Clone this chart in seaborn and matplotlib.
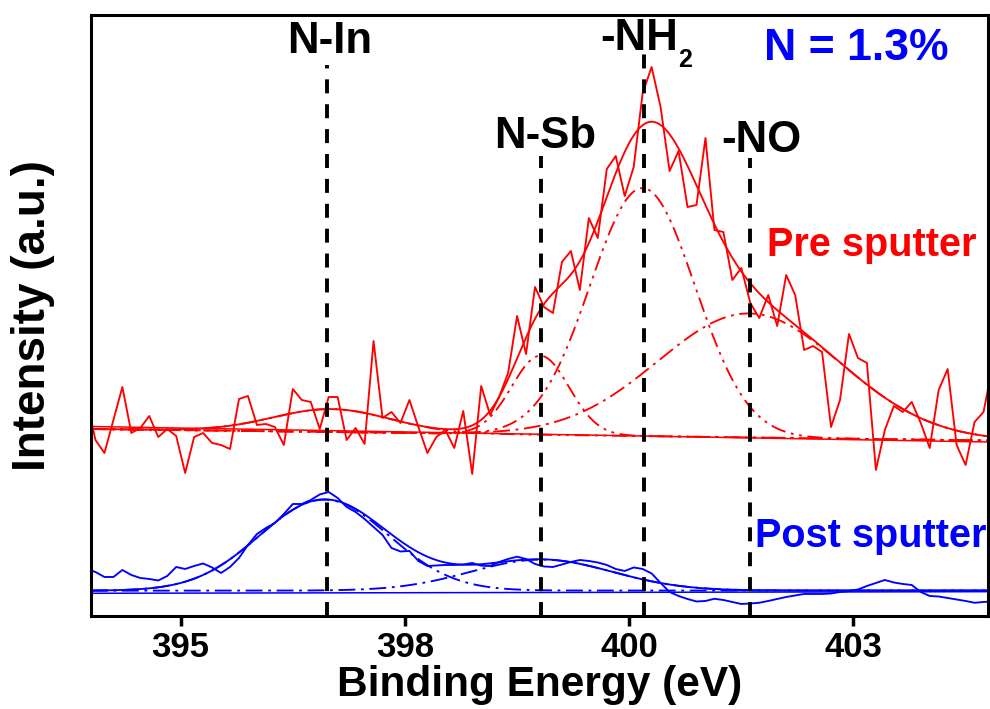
import numpy as np
import matplotlib
matplotlib.use("Agg")
import matplotlib.pyplot as plt
import seaborn as sns

# ---------------- data ----------------
# binding-energy grid of the measured spectra (eV)
energy = np.round(394.05 + 0.1 * np.arange(-1, 101), 2)

# Pre sputter raw counts (a.u.)
pre_counts = [216,
    176, 163, 196, 229, 183, 188, 200, 179, 187, 180,
    143, 179, 183, 173, 171, 167, 217, 220, 191, 192,
    189, 171, 227, 216, 214, 187, 219, 219, 176, 188,
    172, 275, 198, 204, 193, 216, 189, 163, 179, 186,
    168, 205, 142, 230, 201, 219, 243, 300, 262, 329,
    309, 303, 354, 365, 326, 398, 378, 447, 460, 420,
    449, 523, 549, 509, 445, 465, 409, 411, 478, 386,
    384, 336, 348, 313, 298, 321, 290, 341, 321, 266,
    270, 264, 189, 216, 282, 258, 253, 146, 186, 210,
    204, 214, 193, 168, 226, 247, 171, 151, 194, 204,
    250]

# Post sputter raw counts (a.u.)
post_counts = [47,
    44, 39, 39, 46, 41, 38, 37, 35.5, 40, 49,
    47, 50, 52.5, 48.5, 43, 49, 58, 71, 82, 88,
    93, 102, 112, 112, 116, 121.5, 124, 118, 109, 104,
    97, 89, 81, 68, 64.5, 65, 55, 50, 50.5, 51,
    51, 51.5, 53, 50.3, 50, 54, 57, 59.3, 57, 52,
    49.5, 49, 51.5, 54, 56, 55, 53.5, 51, 47, 45,
    48.5, 47, 42.5, 33, 24, 20, 17, 14.5, 15, 17.2,
    16, 14, 12, 12.5, 13.2, 15, 17, 19, 20.5, 22,
    22, 22, 22.5, 24, 25, 26.5, 30, 33, 36, 33.5,
    32, 31, 24, 20, 19.5, 18, 16.5, 15, 13.2, 14,
    14.5]

# fitted components (N-In, N-Sb, -NH2, -NO)
pre_centers = [396.68, 399.01, 400.15, 401.34]
pre_heights = [23, 79, 248, 124]
pre_sigmas = [0.65, 0.32, 0.585, 1.02]
pre_bg_ends = [189.5, 174.0]      # linear background (solid)
pre_base_ends = [187.0, 175.5]    # base under the fitted components

# post sputter components (N-In, N-Sb)
post_centers = [396.60, 399.02]
post_heights = [91, 31]
post_sigmas = [0.72, 0.79]
post_bg_ends = [22.7, 24.3]
post_base_ends = [25.3, 25.5]

# reference lines
ref_names = ["N-In", "N-Sb", "-NO"]
ref_energies = [396.63, 399.02, 401.35]
ref_tops = [551, 460, 458]
nh2_energy = 400.17
nh2_top = 564

x_range = [394.0, 404.0]

# ---------------- style ----------------
sns.set_theme(style="white")
plt.rcParams["font.family"] = ["Liberation Sans", "DejaVu Sans"]
plt.rcParams["font.weight"] = "bold"
plt.rcParams["text.color"] = "black"
plt.rcParams["axes.labelcolor"] = "black"
plt.rcParams["xtick.color"] = "black"
plt.rcParams["xtick.labelcolor"] = "black"

RED = "#FF0000"
BLUE = "#0000FF"
DASHDOTDOT = (0, (8, 3, 1.5, 3, 1.5, 3))
DASHDOT = (0, (9, 3, 1.5, 3))
pre_styles = [DASHDOTDOT, DASHDOTDOT, DASHDOTDOT, DASHDOT]
post_styles = [DASHDOT, DASHDOT]


def gauss(x, c, h, s):
    return h * np.exp(-0.5 * ((x - c) / s) ** 2)


fig = plt.figure(figsize=(9.9, 7.09), dpi=100)
ax = fig.add_axes([0.0919, 0.1312, 0.9061, 0.8476])

xf = np.linspace(x_range[0], x_range[1], 801)


def draw_set(counts, centers, heights, sigmas, bg_ends, base_ends, styles, color):
    sns.lineplot(x=energy, y=counts, ax=ax, color=color, linewidth=1.35,
                 errorbar=None)
    base = np.interp(xf, x_range, base_ends)
    bg = np.interp(xf, x_range, bg_ends)
    env = base.copy()
    for c, h, s, st in zip(centers, heights, sigmas, styles):
        comp = gauss(xf, c, h, s)
        env = env + comp
        sns.lineplot(x=xf, y=base + comp, ax=ax, color=color, linewidth=1.35,
                     linestyle=st, errorbar=None)
    sns.lineplot(x=xf, y=env, ax=ax, color=color, linewidth=1.35, errorbar=None)
    sns.lineplot(x=xf, y=bg, ax=ax, color=color, linewidth=1.1, errorbar=None)


draw_set(pre_counts, pre_centers, pre_heights, pre_sigmas, pre_bg_ends,
         pre_base_ends, pre_styles, RED)
draw_set(post_counts, post_centers, post_heights, post_sigmas, post_bg_ends,
         post_base_ends, post_styles, BLUE)

# vertical reference lines
for e, top in zip(ref_energies + [nh2_energy], ref_tops + [nh2_top]):
    ax.plot([e, e], [0, top], color="black", lw=2.8,
            linestyle=(0, (3.6, 2.8)), zorder=5)

ax.set_xlim(*x_range)
ax.set_ylim(0, 601)

# labels of the reference lines
lab_fs = 31.5
ax.text(396.66, 563, "N-In", ha="center", va="baseline", fontsize=lab_fs,
        fontweight="bold", color="black")
ax.text(399.06, 468, "N-Sb", ha="center", va="baseline", fontsize=lab_fs,
        fontweight="bold", color="black")
ax.text(401.47, 464, "-NO", ha="center", va="baseline", fontsize=lab_fs,
        fontweight="bold", color="black")
ax.text(399.68, 566, "-NH", ha="left", va="baseline", fontsize=lab_fs,
        fontweight="bold", color="black")
ax.text(400.55, 549, "2", ha="left", va="baseline", fontsize=18,
        fontweight="bold", color="black")

ax.text(401.50, 556, "N = 1.3%", ha="left", va="baseline", fontsize=32,
        fontweight="bold", color=BLUE)
ax.text(401.54, 360, "Pre sputter", ha="left", va="baseline", fontsize=28.5,
        fontweight="bold", color=RED)
ax.text(401.40, 69, "Post sputter", ha="left", va="baseline", fontsize=28.5,
        fontweight="bold", color=BLUE, clip_on=False)

# axes
ax.set_xticks([395, 397.5, 400, 402.5])
ax.set_xticklabels(["395", "398", "400", "403"])
ax.set_yticks([])
ax.tick_params(axis="x", direction="out", length=7, width=2.5, pad=4,
               labelsize=25, bottom=True, top=False, color="black",
               labelcolor="black")
for lab in ax.get_xticklabels():
    lab.set_fontweight("bold")
for sp in ax.spines.values():
    sp.set_visible(True)
    sp.set_linewidth(2.2)
    sp.set_color("black")

ax.set_xlabel("Binding Energy (eV)", fontsize=30.5, fontweight="bold",
              labelpad=0.5, color="black")
ax.set_ylabel("Intensity (a.u.)", fontsize=33, fontweight="bold",
              labelpad=26, color="black")

fig.savefig("out.png", dpi=100)
